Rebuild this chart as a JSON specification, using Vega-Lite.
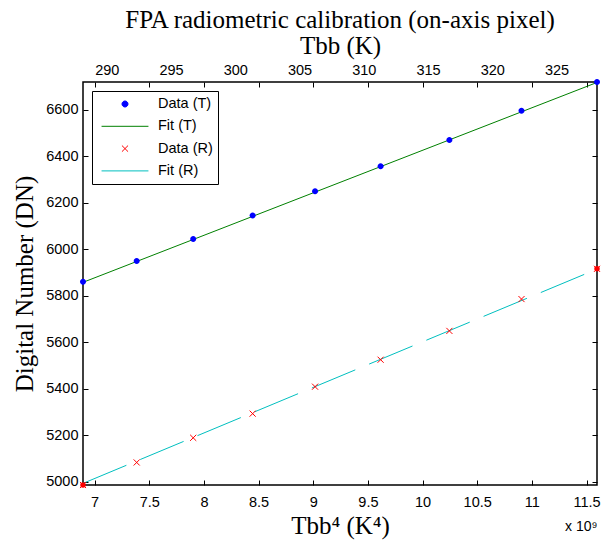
{
  "$schema": "https://vega.github.io/schema/vega-lite/v6.json",
  "width": 514,
  "height": 403,
  "autosize": {"type": "none"},
  "padding": {"left": 83, "top": 82, "right": 8, "bottom": 57},
  "background": "white",
  "title": {"text": "FPA radiometric calibration (on-axis pixel)", "anchor": "middle", "offset": 0},
  "datasets": {
    "pts": [
      {"series": "Data (T)", "T": 288.15, "X4": 6.8940, "DN": 5860},
      {"series": "Data (T)", "T": 293.15, "X4": 7.3851, "DN": 5950},
      {"series": "Data (T)", "T": 298.15, "X4": 7.9020, "DN": 6045},
      {"series": "Data (T)", "T": 303.15, "X4": 8.4456, "DN": 6146},
      {"series": "Data (T)", "T": 308.15, "X4": 9.0167, "DN": 6250},
      {"series": "Data (T)", "T": 313.15, "X4": 9.6163, "DN": 6357},
      {"series": "Data (T)", "T": 318.15, "X4": 10.2454, "DN": 6470},
      {"series": "Data (T)", "T": 323.15, "X4": 10.9048, "DN": 6596},
      {"series": "Data (T)", "T": 328.15, "X4": 11.5955, "DN": 6720},
      {"series": "Data (R)", "T": 288.15, "X4": 6.8940, "DN": 4986},
      {"series": "Data (R)", "T": 293.15, "X4": 7.3851, "DN": 5083},
      {"series": "Data (R)", "T": 298.15, "X4": 7.9020, "DN": 5189},
      {"series": "Data (R)", "T": 303.15, "X4": 8.4456, "DN": 5293},
      {"series": "Data (R)", "T": 308.15, "X4": 9.0167, "DN": 5409},
      {"series": "Data (R)", "T": 313.15, "X4": 9.6163, "DN": 5525},
      {"series": "Data (R)", "T": 318.15, "X4": 10.2454, "DN": 5649},
      {"series": "Data (R)", "T": 323.15, "X4": 10.9048, "DN": 5786},
      {"series": "Data (R)", "T": 328.15, "X4": 11.5955, "DN": 5916}
    ],
    "fits": [
      {"series": "Fit (T)", "X4": 6.8940, "DN": 5858},
      {"series": "Fit (T)", "X4": 11.5955, "DN": 6718},
      {"series": "Fit (R)", "X4": 6.8940, "DN": 4993},
      {"series": "Fit (R)", "X4": 11.5955, "DN": 5915}
    ]
  },
  "layer": [
    {
      "encoding": {
        "x": {"field": "X4", "type": "quantitative",
          "scale": {"domain": [6.894, 11.5955], "nice": false, "zero": false},
          "axis": {"orient": "bottom", "title": "Tbb⁴ (K⁴)", "values": [7, 7.5, 8, 8.5, 9, 9.5, 10, 10.5, 11, 11.5], "format": "~g", "tickSize": -5, "labelPadding": 15, "titlePadding": 5}},
        "y": {"field": "DN", "type": "quantitative",
          "scale": {"domain": [4986, 6720], "nice": false, "zero": false},
          "axis": {"orient": "left", "title": "Digital Number (DN)", "values": [5000, 5200, 5400, 5600, 5800, 6000, 6200, 6400, 6600], "format": "d", "tickSize": -5, "labelPadding": 10, "titlePadding": 8}}
      },
      "layer": [
        {
          "data": {"name": "fits"},
          "transform": [{"filter": "datum.series === 'Fit (T)'"}],
          "mark": {"type": "line", "strokeWidth": 1},
          "encoding": {"color": {"field": "series", "type": "nominal",
            "scale": {"domain": ["Data (T)", "Fit (T)", "Data (R)", "Fit (R)"], "range": ["#0000ff", "#008000", "#ff0000", "#00bfbf"]}}}
        },
        {
          "data": {"name": "fits"},
          "transform": [{"filter": "datum.series === 'Fit (R)'"}],
          "mark": {"type": "line", "strokeWidth": 1, "strokeDash": [47, 15]},
          "encoding": {"color": {"field": "series", "type": "nominal"}}
        },
        {
          "data": {"name": "pts"},
          "transform": [{"filter": "datum.series === 'Data (R)' && (datum.T === 288.15 || datum.T === 328.15)"}],
          "mark": {"type": "point", "shape": "circle", "filled": true, "size": 30, "color": "#ff0000", "opacity": 1}
        },
        {
          "data": {"name": "pts"},
          "transform": [{"filter": "datum.series === 'Data (T)'"}],
          "mark": {"type": "point", "filled": true, "size": 2200, "opacity": 1},
          "encoding": {
            "color": {"field": "series", "type": "nominal"},
            "shape": {"field": "series", "type": "nominal",
              "scale": {"domain": ["Data (T)", "Fit (T)", "Data (R)", "Fit (R)"], "range": ["M-0.128,0A0.128,0.128,0,1,1,0.128,0A0.128,0.128,0,1,1,-0.128,0Z", "stroke", "M-0.13,-0.13L0.13,0.13M-0.13,0.13L0.13,-0.13", "stroke"]}}
          }
        },
        {
          "data": {"name": "pts"},
          "transform": [{"filter": "datum.series === 'Data (R)'"}],
          "mark": {"type": "point", "filled": false, "size": 2200, "strokeWidth": 1, "opacity": 1},
          "encoding": {
            "color": {"field": "series", "type": "nominal"},
            "shape": {"field": "series", "type": "nominal"}
          }
        }
      ]
    },
    {
      "data": {"name": "pts"},
      "mark": {"type": "point", "opacity": 0},
      "encoding": {
        "x": {"field": "X4", "type": "quantitative",
          "scale": {"domain": [6.894, 11.5955], "nice": false, "zero": false},
          "axis": {"orient": "top", "title": null, "labels": false, "values": [7, 7.5, 8, 8.5, 9, 9.5, 10, 10.5, 11, 11.5], "tickSize": -5}},
        "y": {"field": "DN", "type": "quantitative",
          "axis": {"orient": "right", "title": null, "labels": false, "values": [5000, 5200, 5400, 5600, 5800, 6000, 6200, 6400, 6600], "tickSize": -5}}
      }
    },
    {
      "data": {"name": "pts"},
      "mark": {"type": "point", "opacity": 0},
      "encoding": {
        "x": {"field": "X4", "type": "quantitative",
          "scale": {"domain": [6.894, 11.5955], "nice": false, "zero": false},
          "axis": {"orient": "bottom", "labels": false, "ticks": false, "title": "x 10⁹", "titleAnchor": "end", "titleFont": "Liberation Sans", "titleFontSize": 14, "titlePadding": 34}}
      }
    },
    {
      "data": {"name": "pts"},
      "mark": {"type": "point", "opacity": 0},
      "encoding": {
        "x": {"field": "T", "type": "quantitative",
          "scale": {"domain": [288.15, 328.15], "nice": false, "zero": false},
          "axis": {"orient": "top", "title": "Tbb (K)", "ticks": false, "values": [290, 295, 300, 305, 310, 315, 320, 325], "format": "d", "labelPadding": 5, "titlePadding": 4}}
      }
    }
  ],
  "resolve": {"scale": {"x": "independent"}, "axis": {"x": "independent", "y": "independent"}},
  "config": {
    "view": {"stroke": "black", "strokeWidth": 1.5},
    "axis": {"domain": false, "grid": false, "labelFont": "Liberation Sans", "labelFontSize": 14.5, "labelColor": "black", "tickColor": "black", "tickWidth": 1, "titleFont": "Liberation Serif", "titleFontSize": 25, "titleFontWeight": "normal", "titleColor": "black", "labelFlush": false, "labelOverlap": false},
    "title": {"font": "Liberation Serif", "fontSize": 25, "fontWeight": "normal", "color": "black"},
    "legend": {
      "orient": "top-left", "offset": 9, "title": null,
      "strokeColor": "black", "fillColor": "white", "padding": 5,
      "labelFont": "Liberation Sans", "labelFontSize": 14.5, "labelColor": "black",
      "symbolSize": 2200, "clipHeight": 16, "symbolOffset": 4, "labelOffset": 9,
      "rowPadding": 6.3, "symbolStrokeWidth": 1, "symbolOpacity": 1
    }
  }
}
